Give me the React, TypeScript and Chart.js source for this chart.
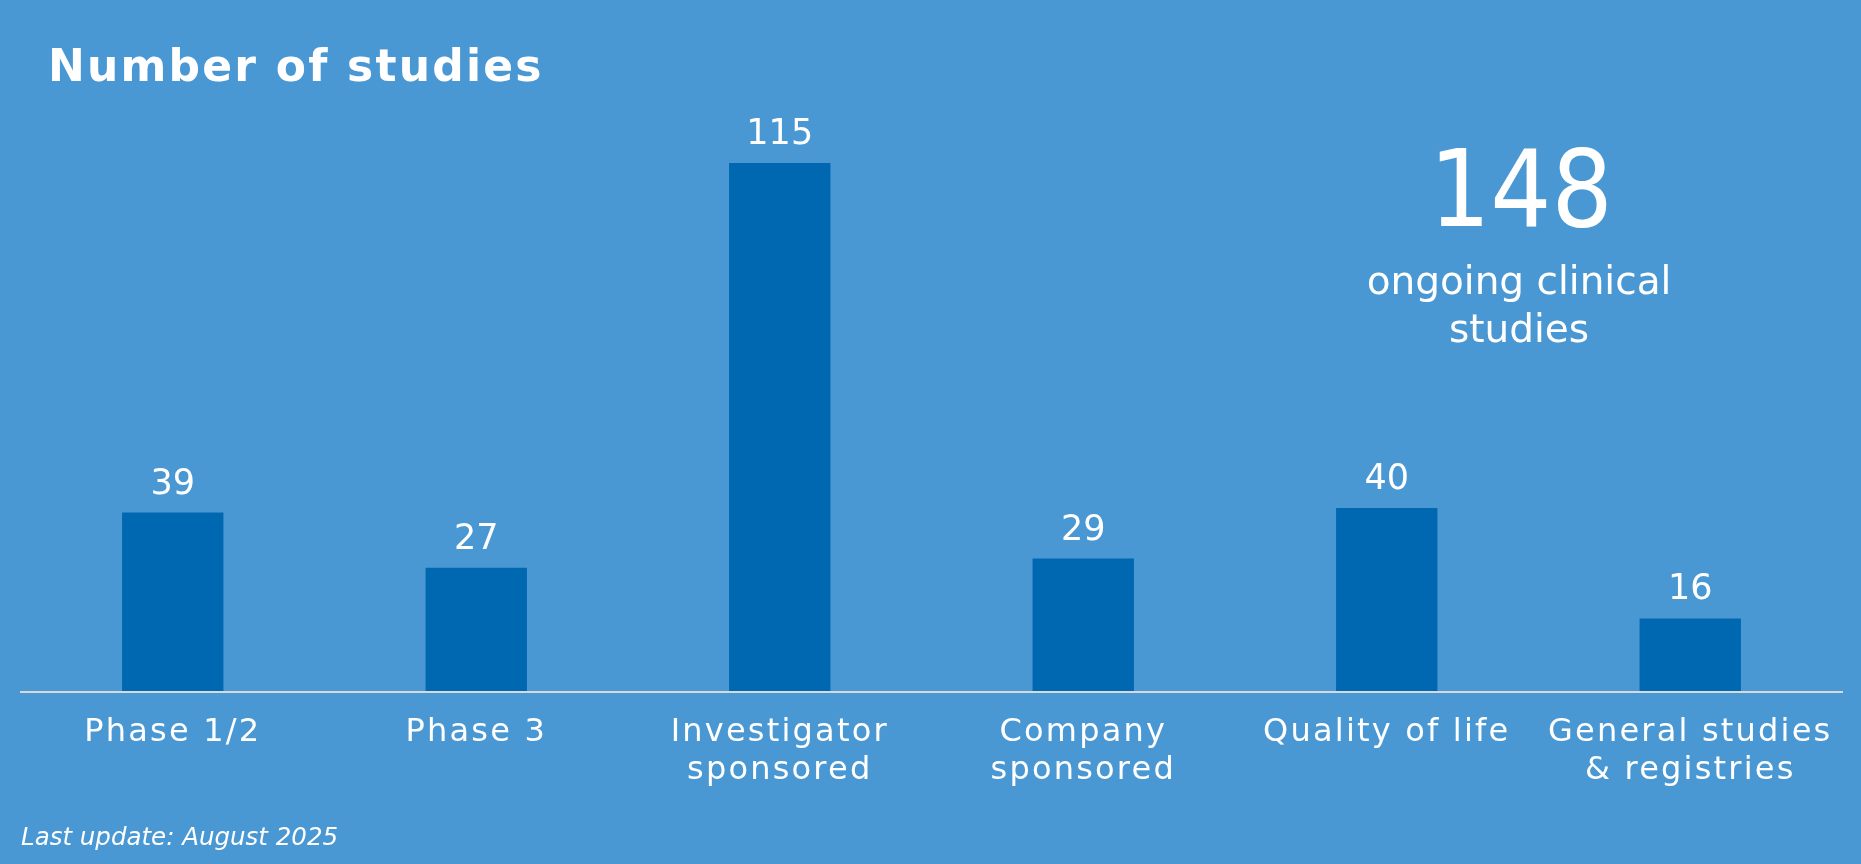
import React, { useEffect, useRef } from 'react';
import { Chart, registerables } from 'chart.js';

Chart.register(...registerables);

const titleText = 'Number of studies';
const categories: string[][] = [
  ['Phase 1/2'],
  ['Phase 3'],
  ['Investigator', 'sponsored'],
  ['Company', 'sponsored'],
  ['Quality of life'],
  ['General studies', '& registries'],
];
const studyCounts = [39, 27, 115, 29, 40, 16];
const totalOngoing = '148';
const totalCaption = ['ongoing clinical', 'studies'];
const footerText = 'Last update: August 2025';

const BG = '#4A98D3';
const BAR = '#0067B1';
const FONT = '"DejaVu Sans", Verdana, sans-serif';

const spacingPlugin = {
  id: 'spacing',
  beforeLayout(chart: any) {
    chart.ctx.letterSpacing = '2.2px';
  },
  beforeDraw(chart: any) {
    chart.ctx.letterSpacing = '2.2px';
  },
};

const barLabelPlugin = {
  id: 'barLabels',
  afterDatasetsDraw(chart: any) {
    const ctx = chart.ctx;
    const meta = chart.getDatasetMeta(0);
    const data = chart.data.datasets[0].data;
    ctx.save();
    ctx.letterSpacing = '0px';
    ctx.font = `35px ${FONT}`;
    ctx.fillStyle = '#ffffff';
    ctx.textAlign = 'center';
    ctx.textBaseline = 'alphabetic';
    meta.data.forEach((bar: any, i: number) => {
      ctx.fillText(String(data[i]), bar.x, bar.y - 19);
    });
    ctx.restore();
  },
};

export default function App() {
  const canvasRef = useRef<HTMLCanvasElement | null>(null);

  useEffect(() => {
    if (!canvasRef.current) return;
    const chart = new Chart(canvasRef.current, {
      type: 'bar',
      data: {
        labels: categories,
        datasets: [
          {
            data: studyCounts,
            backgroundColor: BAR,
            borderWidth: 0,
            categoryPercentage: 1,
            barPercentage: 0.334,
          },
        ],
      },
      options: {
        animation: false,
        responsive: false,
        events: [],
        layout: { padding: { top: 94, left: 21, right: 19, bottom: 0 } },
        plugins: {
          legend: { display: false },
          tooltip: { enabled: false },
          title: { display: false },
        },
        scales: {
          x: {
            grid: { display: false, drawTicks: false },
            border: { display: true, color: '#D9D9D9', width: 2, z: 1 },
            ticks: {
              color: '#ffffff',
              font: { family: FONT, size: 32, lineHeight: 1.166 },
              padding: 22.5,
              autoSkip: false,
              maxRotation: 0,
              minRotation: 0,
            },
            afterFit: (scale: any) => {
              scale.height = 172;
            },
          },
          y: {
            display: false,
            min: 0,
            max: 130,
          },
        },
      },
      plugins: [spacingPlugin, barLabelPlugin],
    });
    return () => chart.destroy();
  }, []);

  return (
    <div
      style={{
        position: 'fixed',
        left: 0,
        top: 0,
        width: 1861,
        height: 864,
        background: BG,
        overflow: 'hidden',
        fontFamily: FONT,
        color: '#ffffff',
      }}
    >
      <canvas
        ref={canvasRef}
        width={1861}
        height={864}
        style={{ position: 'absolute', left: 0, top: 0, width: 1861, height: 864 }}
      />
      <div
        style={{
          position: 'absolute',
          left: 48,
          top: 44,
          fontSize: 44,
          lineHeight: '44px',
          fontWeight: 'bold',
          letterSpacing: '2.2px',
          whiteSpace: 'nowrap',
        }}
      >
        {titleText}
      </div>
      <div
        style={{
          position: 'absolute',
          left: 1271,
          width: 500,
          top: 135.5,
          textAlign: 'center',
          fontFamily: '"DejaVu Sans Condensed", "DejaVu Sans", sans-serif',
          fontSize: 107,
          lineHeight: '107px',
          whiteSpace: 'nowrap',
        }}
      >
        {totalOngoing}
      </div>
      <div
        style={{
          position: 'absolute',
          left: 1269,
          width: 500,
          top: 256.5,
          textAlign: 'center',
          fontSize: 39,
          lineHeight: '48px',
          whiteSpace: 'nowrap',
        }}
      >
        {totalCaption.map((l, i) => (
          <div key={i}>{l}</div>
        ))}
      </div>
      <div
        style={{
          position: 'absolute',
          left: 21,
          top: 825,
          fontSize: 24.5,
          lineHeight: '24px',
          fontStyle: 'italic',
          whiteSpace: 'nowrap',
        }}
      >
        {footerText}
      </div>
    </div>
  );
}
